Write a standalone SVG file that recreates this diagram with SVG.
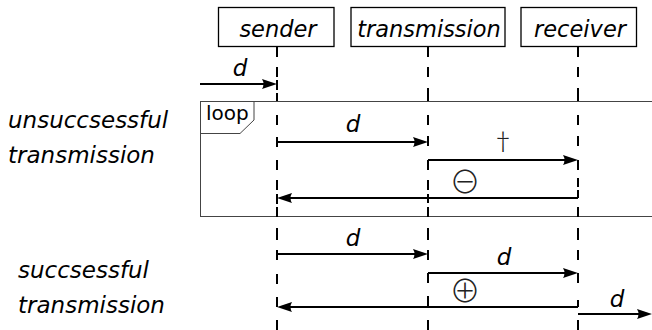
<svg xmlns="http://www.w3.org/2000/svg" width="652" height="330" viewBox="0 0 652 330">
  <style>
    .box { fill: #fff; stroke: #000; stroke-width: 1.3; }
    .name { font-family: "DejaVu Sans", sans-serif; font-style: italic; font-size: 22.5px; fill: #000; text-anchor: middle; }
    .side { font-family: "DejaVu Sans", sans-serif; font-style: italic; font-size: 23px; fill: #000; }
    .lbl { font-family: "DejaVu Sans", sans-serif; font-style: italic; font-size: 23px; fill: #000; text-anchor: middle; }
    .sym { font-family: "Noto Sans CJK SC", "DejaVu Sans", sans-serif; font-weight: 300; font-size: 31px; fill: #222; text-anchor: middle; }
    .dag { font-family: "Noto Sans CJK SC", "DejaVu Sans", sans-serif; font-weight: 300; font-size: 24px; fill: #222; text-anchor: middle; }
    .life { stroke: #000; stroke-width: 2; fill: none; }
    .msg { stroke: #000; stroke-width: 2; fill: none; marker-end: url(#ah); }
    .frame { fill: none; stroke: #444; stroke-width: 1; }
    .tag { font-family: "DejaVu Sans", sans-serif; font-size: 20px; fill: #000; }
  </style>
  <defs>
    <marker id="ah" markerUnits="userSpaceOnUse" markerWidth="16" markerHeight="12" refX="7" refY="5" orient="auto" overflow="visible">
      <path d="M15,5 L0,0 Q3,5 0,10 Z" fill="#000"/>
    </marker>
  </defs>

  <!-- side captions -->
  <g id="captions">
    <text class="side" x="8" y="128">unsuccsessful</text>
    <text class="side" x="8" y="163">transmission</text>
    <text class="side" x="18" y="278">succsessful</text>
    <text class="side" x="18" y="313">transmission</text>
  </g>

  <!-- loop fragment -->
  <g id="loop">
    <rect class="frame" x="200.5" y="101.5" width="470" height="115"/>
    <path class="frame" d="M200.5,133.5 H240 L254,120 V101.5"/>
    <text class="tag" x="206" y="120">loop</text>
  </g>

  <!-- lifelines -->
  <g id="lifelines">
    <path class="life" d="M277,47V57M277,67V77M277,80V90M277,93V101M277,115V125M277,137V147M277,160V170M277,180V190M277,194V204M277,207V217M277,228V240M277,250V260M277,274V284M277,297V307M277,320V330"/>
    <path class="life" d="M428,47V57M428,67V77M428,88V101M428,115V125M428,136V146M428,160V170M428,180V190M428,194V203M428,207V217M428,228V240M428,250V260M428,273V283M428,296V307M428,320V330"/>
    <path class="life" d="M578,47V57M578,67V77M578,88V101M578,115V125M578,136V146M578,160V170M578,178V187M578,190V198M578,207V217M578,228V240M578,250V260M578,273V283M578,300V307M578,320V330"/>
  </g>

  <!-- participants -->
  <g id="sender">
    <rect class="box" x="218.5" y="7.5" width="115.5" height="39"/>
    <text class="name" x="278" y="37">sender</text>
  </g>
  <g id="transmission">
    <rect class="box" x="351" y="7.5" width="154" height="39"/>
    <text class="name" x="429" y="37">transmission</text>
  </g>
  <g id="receiver">
    <rect class="box" x="521" y="7.5" width="115.5" height="39"/>
    <text class="name" x="580" y="37">receiver</text>
  </g>

  <!-- messages -->
  <g id="messages">
    <line class="msg" x1="200" y1="84" x2="269" y2="84"/>
    <text class="lbl" x="240" y="76">d</text>

    <line class="msg" x1="277" y1="142" x2="420" y2="142"/>
    <text class="lbl" x="353" y="132">d</text>
    <line class="msg" x1="428" y1="160" x2="570" y2="160"/>
    <text class="dag" x="503" y="150">†</text>
    <text class="sym" x="465" y="193">⊖</text>
    <line class="msg" x1="578" y1="198" x2="285" y2="198"/>

    <line class="msg" x1="277" y1="254" x2="420" y2="254"/>
    <text class="lbl" x="353" y="246">d</text>
    <line class="msg" x1="428" y1="273" x2="570" y2="273"/>
    <text class="lbl" x="504" y="265">d</text>
    <text class="sym" x="465" y="302">⊕</text>
    <line class="msg" x1="578" y1="307" x2="285" y2="307"/>
    <line class="msg" x1="578" y1="314" x2="644" y2="314"/>
    <text class="lbl" x="617" y="307">d</text>
  </g>
</svg>
